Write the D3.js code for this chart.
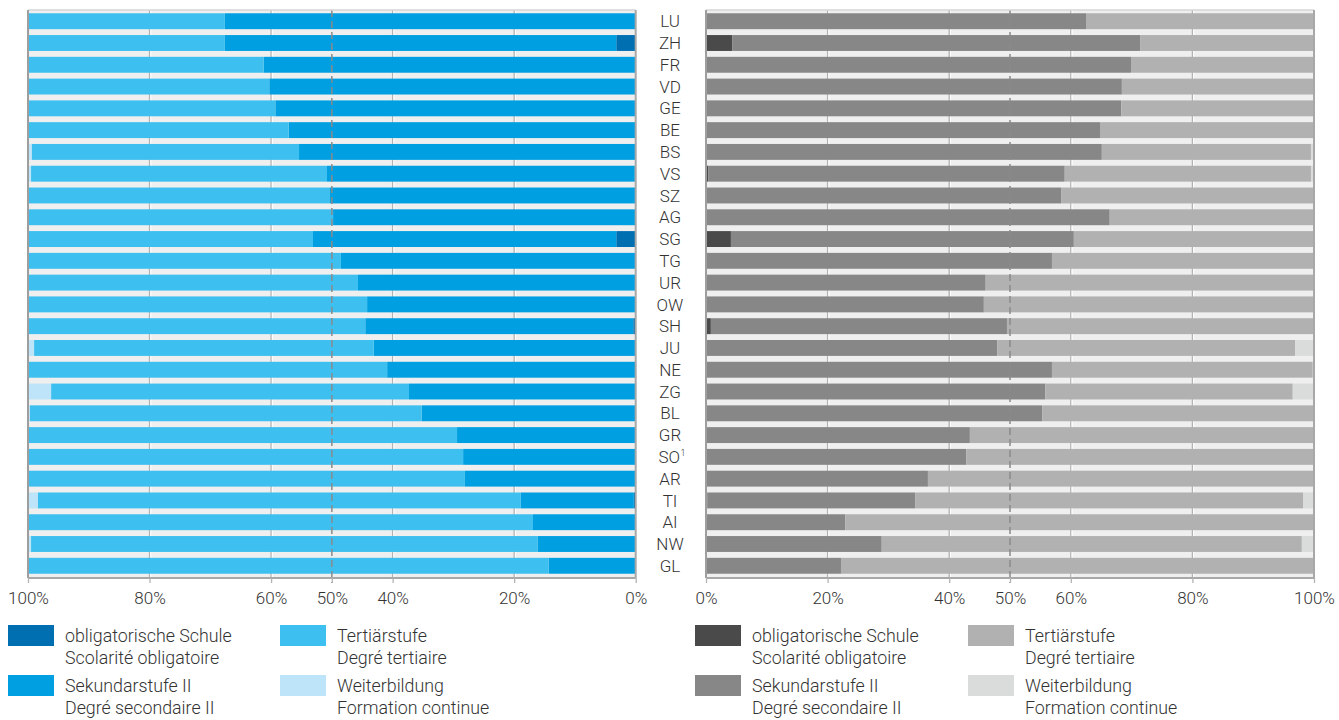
<!DOCTYPE html>
<html><head><meta charset="utf-8">
<script src="https://cdn.jsdelivr.net/npm/d3@7"></script>
<style>
body{margin:0;background:#fff;}
text{font-family:Roboto,"Noto Sans",sans-serif;font-weight:300;fill:#333;}
</style></head>
<body><svg id="c" width="1339" height="720"></svg>
<script>
const cantons = ["LU","ZH","FR","VD","GE","BE","BS","VS","SZ","AG","SG","TG","UR","OW","SH","JU","NE","ZG","BL","GR","SO","AR","TI","AI","NW","GL"];
// left panel (%)
const leftOblig = [0,3.2,0,0,0,0,0,0.2,0,0,3.2,0,0,0,0.4,0,0,0,0,0,0,0,0.3,0,0,0];
const leftSek   = [67.6,64.4,61.2,60.3,59.3,57.1,55.4,50.6,50.3,49.8,49.9,48.5,45.7,44.2,44.1,43.1,40.9,37.3,35.2,29.4,28.4,28.1,18.6,16.9,16.1,14.3];
const leftTert  = [32.4,32.4,38.8,39.7,40.7,42.9,44.0,48.7,49.7,50.2,46.9,51.5,54.3,55.8,55.5,55.9,59.1,58.9,64.5,70.6,71.6,71.9,79.5,83.1,83.4,85.7];
const leftWB    = [0,0,0,0,0,0,0.6,0.5,0,0,0,0,0,0,0,1.0,0,3.8,0.3,0,0,0,1.6,0,0.5,0];
// right panel (%)
const rightOblig = [0,4.3,0,0,0,0,0,0.4,0,0,4.1,0,0,0,0.8,0,0,0,0,0,0,0,0.2,0,0,0];
const rightSek   = [62.5,67.1,69.9,68.4,68.3,64.8,65.1,58.6,58.4,66.4,56.4,56.9,46.0,45.7,48.7,47.9,56.9,55.8,55.3,43.4,42.8,36.5,34.2,22.9,28.9,22.2];
const rightTert  = [37.5,28.6,30.1,31.6,31.7,35.2,34.4,40.5,41.6,33.6,39.5,43.1,54.0,54.3,50.5,49.0,42.9,40.7,44.7,56.6,57.2,63.5,63.8,77.1,69.1,77.8];
const rightWB    = [0,0,0,0,0,0,0.5,0.5,0,0,0,0,0,0,0,3.1,0.2,3.5,0,0,0,0,1.8,0,2.0,0];
const tickVals = [0,20,40,50,60,80,100];
const keys = ["oblig","sek","tert","wb"];
const legendDE = ["obligatorische Schule","Sekundarstufe II","Tertiärstufe","Weiterbildung"];
const legendFR = ["Scolarité obligatoire","Degré secondaire II","Degré tertiaire","Formation continue"];
const blues = ["#006fb2","#009fe1","#3dbfef","#bde4f8"];
const grays = ["#4a4a4a","#878787","#b1b1b2","#dadbdb"];

const svg = d3.select("#c");
const top0 = 10, bot0 = 577;
const y = d3.scaleBand().domain(cantons).range([top0, bot0]).paddingInner(0.27).paddingOuter(0.15);

function rows(o,s,t,w){ return cantons.map((c,i)=>({c,oblig:o[i],sek:s[i],tert:t[i],wb:w[i]})); }

function panel(x, data, colors){
  const g = svg.append("g");
  const [r0, r1] = [x(0), x(100)];
  const lx = Math.min(r0,r1), rx = Math.max(r0,r1);
  g.append("rect").attr("x",lx).attr("y",top0).attr("width",rx-lx).attr("height",bot0-top0).attr("fill","#efefef");
  [20,40,60,80].forEach(v=>{
    g.append("line").attr("x1",x(v)).attr("x2",x(v)).attr("y1",top0).attr("y2",bot0).attr("stroke","#b3b3b3").attr("stroke-width",1.3);
    g.append("line").attr("x1",x(v)+1.3).attr("x2",x(v)+1.3).attr("y1",top0).attr("y2",bot0).attr("stroke","#fff").attr("stroke-width",1);
  });
  const stack = d3.stack().keys(keys)(data);
  stack.forEach((layer,k)=>{
    g.selectAll(null).data(layer).join("rect")
      .attr("x",d=>Math.min(x(d[0]),x(d[1])))
      .attr("width",d=>Math.abs(x(d[1])-x(d[0])))
      .attr("y",d=>y(d.data.c)).attr("height",y.bandwidth())
      .attr("fill",colors[k]);
  });
  g.append("line").attr("x1",x(50)).attr("x2",x(50)).attr("y1",top0).attr("y2",bot0+6)
    .attr("stroke","#8a8a8a").attr("stroke-width",1.5).attr("stroke-dasharray","7,4");
  g.append("line").attr("x1",lx).attr("x2",rx).attr("y1",top0).attr("y2",top0).attr("stroke","#d6d6d6").attr("stroke-width",1.5);
  g.append("line").attr("x1",lx).attr("x2",lx).attr("y1",top0).attr("y2",bot0+1).attr("stroke","#9e9e9e").attr("stroke-width",2);
  g.append("line").attr("x1",rx).attr("x2",rx).attr("y1",top0).attr("y2",bot0+1).attr("stroke","#a8a8a8").attr("stroke-width",2);
  g.append("line").attr("x1",lx).attr("x2",rx).attr("y1",bot0+1).attr("y2",bot0+1).attr("stroke","#a8a8a8").attr("stroke-width",2);
  const ax = g.append("g").attr("transform",`translate(0,${bot0+1})`)
    .call(d3.axisBottom(x).tickValues(tickVals).tickFormat(d=>d+"%").tickSize(5).tickPadding(9));
  ax.select(".domain").remove();
  ax.selectAll(".tick line").attr("stroke","#b3b3b3").attr("stroke-width",1.3);
  ax.selectAll(".tick text").attr("font-size",17).attr("font-family","Roboto").attr("font-weight",300).attr("fill","#333");
}

const xl = d3.scaleLinear().domain([0,100]).range([635.7,28]);
const xr = d3.scaleLinear().domain([0,100]).range([706,1314]);
panel(xl, rows(leftOblig,leftSek,leftTert,leftWB), blues);
panel(xr, rows(rightOblig,rightSek,rightTert,rightWB), grays);

const lab = svg.append("g").selectAll("text").data(cantons).join("text")
  .attr("x",670).attr("y",d=>y(d)+y.bandwidth()/2).attr("dy","0.36em")
  .attr("text-anchor","middle").attr("font-size",17);
lab.each(function(d){
  const t = d3.select(this);
  if(d==="SO"){ t.text("SO"); t.append("tspan").attr("font-size",9).attr("dy","-0.8em").attr("dx","0.5").text("1"); t.attr("x",672); }
  else t.text(d);
});

function legend(x0, x1, colors){
  const cols=[x0,x0,x1,x1], rowsY=[625,675,625,675];
  keys.forEach((k,i)=>{
    const g = svg.append("g");
    g.append("rect").attr("x",cols[i]).attr("y",rowsY[i]).attr("width",46).attr("height",21).attr("fill",colors[i]);
    g.append("text").attr("x",cols[i]+57).attr("y",rowsY[i]+17).attr("font-size",17.8).text(legendDE[i]);
    g.append("text").attr("x",cols[i]+57).attr("y",rowsY[i]+39).attr("font-size",17.8).text(legendFR[i]);
  });
}
legend(8,280,blues);
legend(695,968,grays);
</script></body></html>
